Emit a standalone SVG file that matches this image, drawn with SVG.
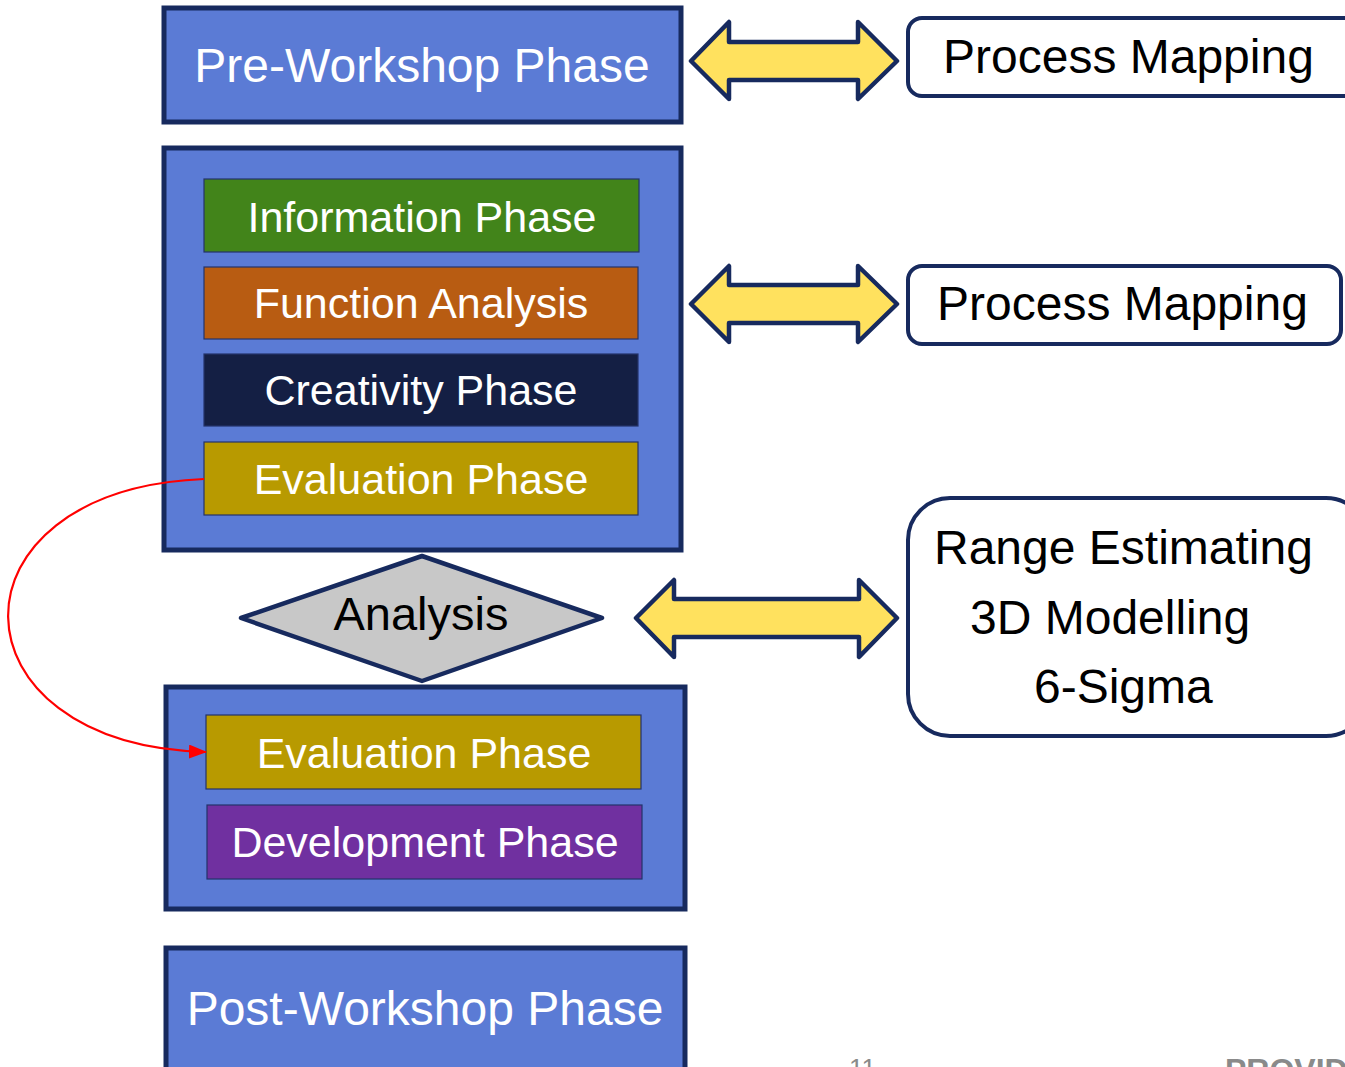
<svg xmlns="http://www.w3.org/2000/svg" width="1345" height="1067" viewBox="0 0 1345 1067">
<style>
.phase{fill:#5b7bd5;stroke:#172a5e;stroke-width:5}
.inner{stroke:#23336a;stroke-width:1.2}
.wt{font-family:"Liberation Sans",Arial,sans-serif;fill:#ffffff;text-anchor:middle}
.bt{font-family:"Liberation Sans",Arial,sans-serif;fill:#000000}
.tool{fill:#ffffff;stroke:#172a5e;stroke-width:4}
.dbl{fill:#ffe15e;stroke:#172a5e;stroke-width:4.5;stroke-linejoin:round}
.foot{font-family:"Liberation Sans",Arial,sans-serif;fill:#8a8a8a}
</style>
<defs>
<marker id="redhead" markerWidth="18" markerHeight="14" refX="17" refY="7" orient="auto" markerUnits="userSpaceOnUse">
<path d="M0,0 L18,7 L0,14 Z" fill="#ff0000"/>
</marker>
</defs>
<rect width="1345" height="1067" fill="#ffffff"/>

<g id="pre-workshop">
<rect class="phase" x="164" y="8" width="517" height="114"/>
<text class="wt" x="422" y="82" font-size="48">Pre-Workshop Phase</text>
</g>

<g id="workshop-1">
<rect class="phase" x="164" y="148" width="517" height="402"/>
</g>
<g id="information">
<rect class="inner" x="204" y="179" width="435" height="73" fill="#42841a"/>
<text class="wt" x="422" y="232" font-size="43">Information Phase</text>
</g>
<g id="function-analysis">
<rect class="inner" x="204" y="267" width="434" height="72" fill="#b85c12"/>
<text class="wt" x="421" y="318" font-size="43">Function Analysis</text>
</g>
<g id="creativity">
<rect class="inner" x="204" y="354" width="434" height="72" fill="#141f44"/>
<text class="wt" x="421" y="405" font-size="43">Creativity Phase</text>
</g>
<g id="evaluation-1">
<rect class="inner" x="204" y="442" width="434" height="73" fill="#b89a00"/>
<text class="wt" x="421" y="494" font-size="43">Evaluation Phase</text>
</g>

<g id="analysis">
<polygon points="241,618 422,556 602,618 422,681" fill="#c8c8c8" stroke="#172a5e" stroke-width="4.5" stroke-linejoin="round"/>
<text class="bt" x="421" y="630" font-size="47" text-anchor="middle">Analysis</text>
</g>

<g id="workshop-2">
<rect class="phase" x="166" y="687" width="519" height="222"/>
</g>
<g id="evaluation-2">
<rect class="inner" x="206" y="715" width="435" height="74" fill="#b89a00"/>
<text class="wt" x="424" y="768" font-size="43">Evaluation Phase</text>
</g>
<g id="development">
<rect class="inner" x="207" y="805" width="435" height="74" fill="#7030a0"/>
<text class="wt" x="425" y="857" font-size="43">Development Phase</text>
</g>

<g id="post-workshop">
<rect class="phase" x="166" y="948" width="519" height="130"/>
<text class="wt" x="425" y="1025" font-size="48">Post-Workshop Phase</text>
</g>

<g id="process-mapping-1">
<rect class="tool" x="908" y="18" width="450" height="78" rx="14"/>
<text class="bt" x="943" y="73" font-size="48">Process Mapping</text>
</g>
<g id="process-mapping-2">
<rect class="tool" x="908" y="266" width="433" height="78" rx="14"/>
<text class="bt" x="937" y="320" font-size="48">Process Mapping</text>
</g>
<g id="range-tools">
<rect class="tool" x="908" y="498" width="460" height="238" rx="42"/>
<text class="bt" x="934" y="564" font-size="48">Range Estimating</text>
<text class="bt" x="970" y="634" font-size="48">3D Modelling</text>
<text class="bt" x="1034" y="703" font-size="48">6-Sigma</text>
</g>

<g id="connectors">
<polygon class="dbl" points="691,61 729,22 729,42 858,42 858,22 897,61 858,99 858,80 729,80 729,99"/>
<polygon class="dbl" points="691,304 729,266 729,285 858,285 858,266 897,304 858,342 858,323 729,323 729,342"/>
<polygon class="dbl" points="636,618 674,580 674,599 859,599 859,580 897,618 859,657 859,637 674,637 674,657"/>
<path d="M204,479 C-60,490 -55,745 206,752" fill="none" stroke="#ff0000" stroke-width="2.2" marker-end="url(#redhead)"/>
</g>

<g id="footer">
<text class="foot" x="849" y="1077" font-size="26">11</text>
<text class="foot" x="1225" y="1081" font-size="32" font-weight="bold">PROVID</text>
</g>
</svg>
